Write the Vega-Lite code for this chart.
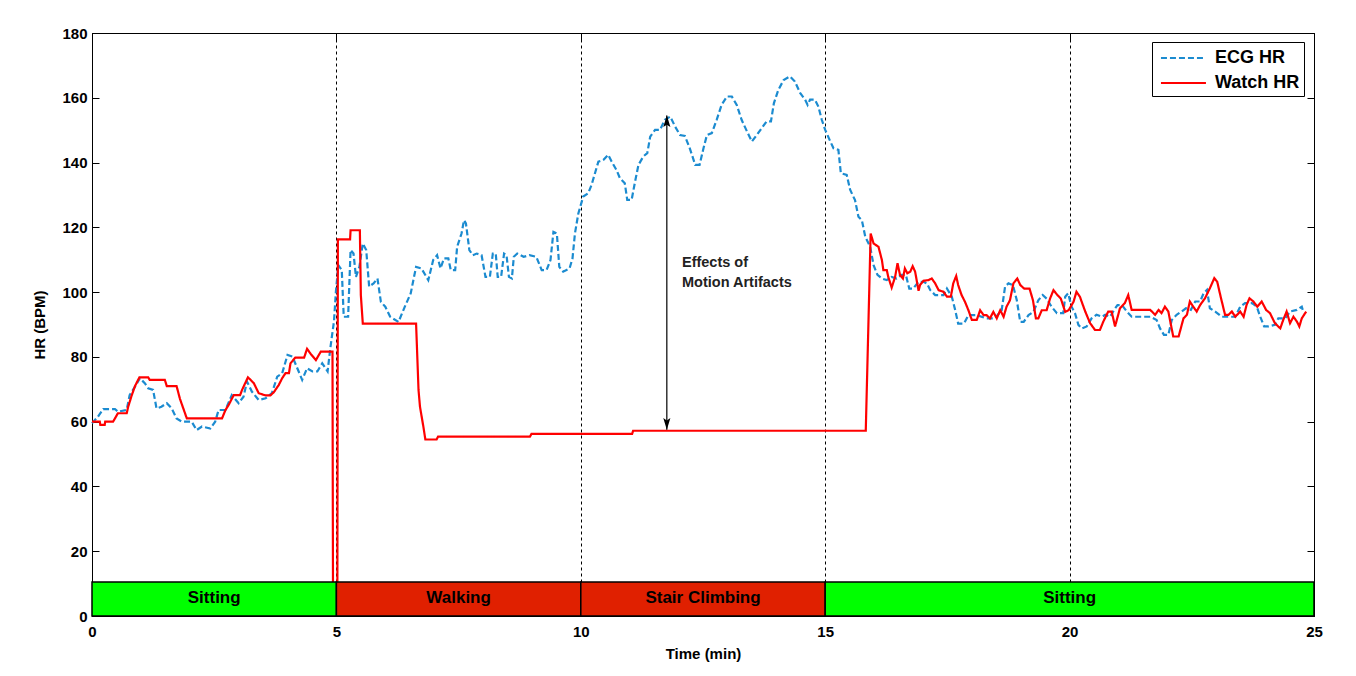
{
  "$schema": "https://vega.github.io/schema/vega-lite/v6.json",
  "autosize": {"type": "none"},
  "width": 1222,
  "height": 583,
  "padding": {"left": 92, "top": 33, "right": 42, "bottom": 60},
  "background": "white",
  "config": {
    "font": "Liberation Sans",
    "view": {"stroke": "black", "strokeWidth": 1},
    "axis": {
      "labelFont": "Liberation Sans", "labelFontWeight": "bold", "labelFontSize": 15, "labelColor": "black",
      "titleFont": "Liberation Sans", "titleFontWeight": "bold", "titleFontSize": 15, "titleColor": "black",
      "domainColor": "black", "tickColor": "black", "tickSize": -7, "labelPadding": 12, "labelFlush": false
    }
  },
  "datasets": {
    "bars": [
      {"activity": "Sitting", "start": 0, "end": 5, "kind": "rest"},
      {"activity": "Walking", "start": 5, "end": 10, "kind": "move"},
      {"activity": "Stair Climbing", "start": 10, "end": 15, "kind": "move"},
      {"activity": "Sitting", "start": 15, "end": 25, "kind": "rest"}
    ],
    "hr": [
      {"s":"ECG HR","t":0,"hr":59.5},{"s":"ECG HR","t":0.12,"hr":61.5},{"s":"ECG HR","t":0.23,"hr":63.9},{"s":"ECG HR","t":0.47,"hr":63.9},{"s":"ECG HR","t":0.53,"hr":63.1},{"s":"ECG HR","t":0.71,"hr":63.6},{"s":"ECG HR","t":0.77,"hr":68.2},{"s":"ECG HR","t":0.88,"hr":70.8},{"s":"ECG HR","t":0.98,"hr":73.4},{"s":"ECG HR","t":1.08,"hr":71.9},{"s":"ECG HR","t":1.15,"hr":70.3},{"s":"ECG HR","t":1.25,"hr":69.8},{"s":"ECG HR","t":1.32,"hr":64.1},{"s":"ECG HR","t":1.42,"hr":64.6},{"s":"ECG HR","t":1.53,"hr":65.7},{"s":"ECG HR","t":1.63,"hr":64.1},{"s":"ECG HR","t":1.73,"hr":61.0},{"s":"ECG HR","t":1.84,"hr":60.0},{"s":"ECG HR","t":2.04,"hr":60.0},{"s":"ECG HR","t":2.14,"hr":57.4},{"s":"ECG HR","t":2.25,"hr":58.5},{"s":"ECG HR","t":2.42,"hr":57.9},{"s":"ECG HR","t":2.52,"hr":60.0},{"s":"ECG HR","t":2.59,"hr":63.6},{"s":"ECG HR","t":2.73,"hr":63.6},{"s":"ECG HR","t":2.86,"hr":68.2},{"s":"ECG HR","t":3.0,"hr":65.7},{"s":"ECG HR","t":3.1,"hr":67.7},{"s":"ECG HR","t":3.17,"hr":72.4},{"s":"ECG HR","t":3.27,"hr":69.3},{"s":"ECG HR","t":3.41,"hr":66.7},{"s":"ECG HR","t":3.55,"hr":67.2},{"s":"ECG HR","t":3.68,"hr":68.8},{"s":"ECG HR","t":3.79,"hr":73.9},{"s":"ECG HR","t":3.89,"hr":74.9},{"s":"ECG HR","t":4.0,"hr":80.6},{"s":"ECG HR","t":4.1,"hr":80.1},{"s":"ECG HR","t":4.2,"hr":76.5},{"s":"ECG HR","t":4.3,"hr":72.9},{"s":"ECG HR","t":4.4,"hr":76.5},{"s":"ECG HR","t":4.51,"hr":75.5},{"s":"ECG HR","t":4.61,"hr":75.5},{"s":"ECG HR","t":4.71,"hr":78.0},{"s":"ECG HR","t":4.82,"hr":75.5},{"s":"ECG HR","t":4.88,"hr":83.2},{"s":"ECG HR","t":4.95,"hr":90.9},{"s":"ECG HR","t":4.99,"hr":100.2},{"s":"ECG HR","t":5.04,"hr":108.3},{"s":"ECG HR","t":5.11,"hr":106.8},{"s":"ECG HR","t":5.15,"hr":92.4},{"s":"ECG HR","t":5.24,"hr":92.4},{"s":"ECG HR","t":5.29,"hr":113.0},{"s":"ECG HR","t":5.35,"hr":111.9},{"s":"ECG HR","t":5.4,"hr":104.7},{"s":"ECG HR","t":5.47,"hr":107.8},{"s":"ECG HR","t":5.54,"hr":115.0},{"s":"ECG HR","t":5.61,"hr":113.0},{"s":"ECG HR","t":5.67,"hr":101.7},{"s":"ECG HR","t":5.76,"hr":102.7},{"s":"ECG HR","t":5.84,"hr":104.2},{"s":"ECG HR","t":5.91,"hr":97.0},{"s":"ECG HR","t":6.0,"hr":95.5},{"s":"ECG HR","t":6.1,"hr":92.4},{"s":"ECG HR","t":6.27,"hr":90.8},{"s":"ECG HR","t":6.4,"hr":95.5},{"s":"ECG HR","t":6.52,"hr":99.6},{"s":"ECG HR","t":6.63,"hr":107.8},{"s":"ECG HR","t":6.74,"hr":107.3},{"s":"ECG HR","t":6.88,"hr":103.7},{"s":"ECG HR","t":6.98,"hr":109.9},{"s":"ECG HR","t":7.06,"hr":111.4},{"s":"ECG HR","t":7.13,"hr":107.3},{"s":"ECG HR","t":7.2,"hr":110.4},{"s":"ECG HR","t":7.29,"hr":110.4},{"s":"ECG HR","t":7.34,"hr":106.8},{"s":"ECG HR","t":7.43,"hr":106.8},{"s":"ECG HR","t":7.47,"hr":114.0},{"s":"ECG HR","t":7.56,"hr":118.1},{"s":"ECG HR","t":7.61,"hr":122.2},{"s":"ECG HR","t":7.65,"hr":121.2},{"s":"ECG HR","t":7.72,"hr":113.0},{"s":"ECG HR","t":7.79,"hr":111.4},{"s":"ECG HR","t":7.87,"hr":111.9},{"s":"ECG HR","t":7.97,"hr":111.4},{"s":"ECG HR","t":8.05,"hr":104.7},{"s":"ECG HR","t":8.14,"hr":104.7},{"s":"ECG HR","t":8.2,"hr":111.9},{"s":"ECG HR","t":8.26,"hr":111.9},{"s":"ECG HR","t":8.3,"hr":104.7},{"s":"ECG HR","t":8.37,"hr":104.7},{"s":"ECG HR","t":8.43,"hr":111.9},{"s":"ECG HR","t":8.48,"hr":111.4},{"s":"ECG HR","t":8.53,"hr":104.7},{"s":"ECG HR","t":8.59,"hr":104.2},{"s":"ECG HR","t":8.63,"hr":110.9},{"s":"ECG HR","t":8.7,"hr":111.9},{"s":"ECG HR","t":8.83,"hr":110.9},{"s":"ECG HR","t":8.95,"hr":111.4},{"s":"ECG HR","t":9.09,"hr":110.9},{"s":"ECG HR","t":9.2,"hr":106.8},{"s":"ECG HR","t":9.3,"hr":106.8},{"s":"ECG HR","t":9.38,"hr":109.9},{"s":"ECG HR","t":9.44,"hr":118.6},{"s":"ECG HR","t":9.51,"hr":118.1},{"s":"ECG HR","t":9.56,"hr":107.8},{"s":"ECG HR","t":9.64,"hr":106.3},{"s":"ECG HR","t":9.77,"hr":107.3},{"s":"ECG HR","t":9.83,"hr":110.4},{"s":"ECG HR","t":9.88,"hr":118.1},{"s":"ECG HR","t":9.95,"hr":124.3},{"s":"ECG HR","t":10.05,"hr":129.5},{"s":"ECG HR","t":10.15,"hr":130.5},{"s":"ECG HR","t":10.22,"hr":133.1},{"s":"ECG HR","t":10.29,"hr":136.7},{"s":"ECG HR","t":10.36,"hr":140.3},{"s":"ECG HR","t":10.46,"hr":140.8},{"s":"ECG HR","t":10.56,"hr":142.4},{"s":"ECG HR","t":10.63,"hr":140.3},{"s":"ECG HR","t":10.73,"hr":137.7},{"s":"ECG HR","t":10.8,"hr":135.2},{"s":"ECG HR","t":10.9,"hr":133.6},{"s":"ECG HR","t":10.95,"hr":128.5},{"s":"ECG HR","t":11.04,"hr":128.5},{"s":"ECG HR","t":11.11,"hr":134.1},{"s":"ECG HR","t":11.18,"hr":139.3},{"s":"ECG HR","t":11.28,"hr":141.9},{"s":"ECG HR","t":11.36,"hr":142.9},{"s":"ECG HR","t":11.42,"hr":148.0},{"s":"ECG HR","t":11.52,"hr":150.1},{"s":"ECG HR","t":11.62,"hr":150.1},{"s":"ECG HR","t":11.72,"hr":153.2},{"s":"ECG HR","t":11.83,"hr":154.2},{"s":"ECG HR","t":11.93,"hr":151.1},{"s":"ECG HR","t":12.03,"hr":148.5},{"s":"ECG HR","t":12.13,"hr":148.2},{"s":"ECG HR","t":12.23,"hr":144.4},{"s":"ECG HR","t":12.34,"hr":139.3},{"s":"ECG HR","t":12.43,"hr":139.3},{"s":"ECG HR","t":12.51,"hr":144.4},{"s":"ECG HR","t":12.58,"hr":148.5},{"s":"ECG HR","t":12.68,"hr":149.1},{"s":"ECG HR","t":12.78,"hr":153.2},{"s":"ECG HR","t":12.88,"hr":157.8},{"s":"ECG HR","t":12.99,"hr":160.4},{"s":"ECG HR","t":13.09,"hr":160.4},{"s":"ECG HR","t":13.19,"hr":157.8},{"s":"ECG HR","t":13.29,"hr":153.2},{"s":"ECG HR","t":13.4,"hr":149.6},{"s":"ECG HR","t":13.5,"hr":146.5},{"s":"ECG HR","t":13.6,"hr":148.5},{"s":"ECG HR","t":13.7,"hr":150.6},{"s":"ECG HR","t":13.8,"hr":152.7},{"s":"ECG HR","t":13.89,"hr":152.7},{"s":"ECG HR","t":13.95,"hr":158.3},{"s":"ECG HR","t":14.04,"hr":162.4},{"s":"ECG HR","t":14.15,"hr":165.5},{"s":"ECG HR","t":14.28,"hr":166.6},{"s":"ECG HR","t":14.38,"hr":165.0},{"s":"ECG HR","t":14.49,"hr":161.4},{"s":"ECG HR","t":14.59,"hr":159.4},{"s":"ECG HR","t":14.64,"hr":157.8},{"s":"ECG HR","t":14.69,"hr":159.4},{"s":"ECG HR","t":14.79,"hr":159.4},{"s":"ECG HR","t":14.86,"hr":157.3},{"s":"ECG HR","t":14.93,"hr":153.2},{"s":"ECG HR","t":15.0,"hr":150.1},{"s":"ECG HR","t":15.09,"hr":147.0},{"s":"ECG HR","t":15.17,"hr":144.4},{"s":"ECG HR","t":15.27,"hr":143.9},{"s":"ECG HR","t":15.32,"hr":136.7},{"s":"ECG HR","t":15.44,"hr":136.2},{"s":"ECG HR","t":15.51,"hr":131.6},{"s":"ECG HR","t":15.61,"hr":128.4},{"s":"ECG HR","t":15.68,"hr":123.3},{"s":"ECG HR","t":15.75,"hr":122.2},{"s":"ECG HR","t":15.82,"hr":117.1},{"s":"ECG HR","t":15.92,"hr":114.0},{"s":"ECG HR","t":15.99,"hr":108.3},{"s":"ECG HR","t":16.07,"hr":105.3},{"s":"ECG HR","t":16.16,"hr":104.2},{"s":"ECG HR","t":16.26,"hr":103.7},{"s":"ECG HR","t":16.36,"hr":104.7},{"s":"ECG HR","t":16.46,"hr":104.2},{"s":"ECG HR","t":16.56,"hr":105.3},{"s":"ECG HR","t":16.65,"hr":105.3},{"s":"ECG HR","t":16.72,"hr":101.1},{"s":"ECG HR","t":16.8,"hr":101.1},{"s":"ECG HR","t":16.91,"hr":103.2},{"s":"ECG HR","t":17.01,"hr":103.2},{"s":"ECG HR","t":17.08,"hr":102.7},{"s":"ECG HR","t":17.15,"hr":100.6},{"s":"ECG HR","t":17.25,"hr":99.1},{"s":"ECG HR","t":17.42,"hr":99.1},{"s":"ECG HR","t":17.49,"hr":101.1},{"s":"ECG HR","t":17.59,"hr":98.6},{"s":"ECG HR","t":17.66,"hr":94.4},{"s":"ECG HR","t":17.72,"hr":90.3},{"s":"ECG HR","t":17.84,"hr":90.3},{"s":"ECG HR","t":17.93,"hr":92.9},{"s":"ECG HR","t":18.1,"hr":92.9},{"s":"ECG HR","t":18.3,"hr":91.9},{"s":"ECG HR","t":18.47,"hr":91.9},{"s":"ECG HR","t":18.61,"hr":94.4},{"s":"ECG HR","t":18.68,"hr":101.7},{"s":"ECG HR","t":18.75,"hr":102.7},{"s":"ECG HR","t":18.84,"hr":102.2},{"s":"ECG HR","t":18.92,"hr":97.5},{"s":"ECG HR","t":18.99,"hr":90.8},{"s":"ECG HR","t":19.06,"hr":90.8},{"s":"ECG HR","t":19.16,"hr":92.9},{"s":"ECG HR","t":19.26,"hr":93.9},{"s":"ECG HR","t":19.36,"hr":97.5},{"s":"ECG HR","t":19.45,"hr":99.1},{"s":"ECG HR","t":19.53,"hr":98.0},{"s":"ECG HR","t":19.63,"hr":95.5},{"s":"ECG HR","t":19.74,"hr":93.5},{"s":"ECG HR","t":19.87,"hr":93.5},{"s":"ECG HR","t":19.91,"hr":98.6},{"s":"ECG HR","t":19.97,"hr":99.6},{"s":"ECG HR","t":20.04,"hr":95.5},{"s":"ECG HR","t":20.11,"hr":93.5},{"s":"ECG HR","t":20.18,"hr":89.9},{"s":"ECG HR","t":20.25,"hr":88.8},{"s":"ECG HR","t":20.35,"hr":89.4},{"s":"ECG HR","t":20.45,"hr":91.9},{"s":"ECG HR","t":20.55,"hr":93.0},{"s":"ECG HR","t":20.66,"hr":92.4},{"s":"ECG HR","t":20.73,"hr":93.0},{"s":"ECG HR","t":20.83,"hr":92.4},{"s":"ECG HR","t":20.91,"hr":94.5},{"s":"ECG HR","t":20.98,"hr":96.0},{"s":"ECG HR","t":21.07,"hr":96.0},{"s":"ECG HR","t":21.17,"hr":94.0},{"s":"ECG HR","t":21.27,"hr":92.4},{"s":"ECG HR","t":21.65,"hr":92.4},{"s":"ECG HR","t":21.78,"hr":91.4},{"s":"ECG HR","t":21.85,"hr":88.8},{"s":"ECG HR","t":21.93,"hr":86.8},{"s":"ECG HR","t":22.02,"hr":86.8},{"s":"ECG HR","t":22.09,"hr":91.4},{"s":"ECG HR","t":22.19,"hr":93.0},{"s":"ECG HR","t":22.29,"hr":94.0},{"s":"ECG HR","t":22.38,"hr":95.0},{"s":"ECG HR","t":22.48,"hr":94.5},{"s":"ECG HR","t":22.57,"hr":97.1},{"s":"ECG HR","t":22.67,"hr":97.1},{"s":"ECG HR","t":22.74,"hr":99.6},{"s":"ECG HR","t":22.81,"hr":100.7},{"s":"ECG HR","t":22.87,"hr":95.0},{"s":"ECG HR","t":22.98,"hr":94.0},{"s":"ECG HR","t":23.11,"hr":92.4},{"s":"ECG HR","t":23.39,"hr":92.4},{"s":"ECG HR","t":23.49,"hr":95.5},{"s":"ECG HR","t":23.59,"hr":96.6},{"s":"ECG HR","t":23.73,"hr":96.6},{"s":"ECG HR","t":23.83,"hr":95.5},{"s":"ECG HR","t":23.9,"hr":92.4},{"s":"ECG HR","t":23.98,"hr":89.4},{"s":"ECG HR","t":24.07,"hr":89.4},{"s":"ECG HR","t":24.2,"hr":89.9},{"s":"ECG HR","t":24.27,"hr":91.9},{"s":"ECG HR","t":24.41,"hr":91.9},{"s":"ECG HR","t":24.51,"hr":94.0},{"s":"ECG HR","t":24.65,"hr":94.5},{"s":"ECG HR","t":24.75,"hr":95.5},{"s":"ECG HR","t":24.78,"hr":94.0},
      {"s":"Watch HR","t":0,"hr":60},{"s":"Watch HR","t":0.16,"hr":60},{"s":"Watch HR","t":0.17,"hr":59},{"s":"Watch HR","t":0.26,"hr":59},{"s":"Watch HR","t":0.27,"hr":60},{"s":"Watch HR","t":0.43,"hr":60},{"s":"Watch HR","t":0.47,"hr":61},{"s":"Watch HR","t":0.53,"hr":62.6},{"s":"Watch HR","t":0.71,"hr":62.6},{"s":"Watch HR","t":0.74,"hr":64.6},{"s":"Watch HR","t":0.81,"hr":68},{"s":"Watch HR","t":0.88,"hr":71},{"s":"Watch HR","t":0.97,"hr":73.7},{"s":"Watch HR","t":1.15,"hr":73.7},{"s":"Watch HR","t":1.18,"hr":72.9},{"s":"Watch HR","t":1.49,"hr":72.9},{"s":"Watch HR","t":1.53,"hr":71},{"s":"Watch HR","t":1.73,"hr":71},{"s":"Watch HR","t":1.8,"hr":67},{"s":"Watch HR","t":1.87,"hr":64},{"s":"Watch HR","t":1.94,"hr":61},{"s":"Watch HR","t":2.66,"hr":61},{"s":"Watch HR","t":2.73,"hr":63.6},{"s":"Watch HR","t":2.79,"hr":65},{"s":"Watch HR","t":2.9,"hr":68.2},{"s":"Watch HR","t":3.03,"hr":68.2},{"s":"Watch HR","t":3.07,"hr":69.8},{"s":"Watch HR","t":3.19,"hr":73.7},{"s":"Watch HR","t":3.31,"hr":71.9},{"s":"Watch HR","t":3.41,"hr":68.8},{"s":"Watch HR","t":3.55,"hr":68.1},{"s":"Watch HR","t":3.65,"hr":68.1},{"s":"Watch HR","t":3.72,"hr":69.1},{"s":"Watch HR","t":3.82,"hr":71.3},{"s":"Watch HR","t":3.89,"hr":73.4},{"s":"Watch HR","t":3.96,"hr":75},{"s":"Watch HR","t":4.03,"hr":75},{"s":"Watch HR","t":4.06,"hr":78},{"s":"Watch HR","t":4.16,"hr":79.8},{"s":"Watch HR","t":4.34,"hr":79.8},{"s":"Watch HR","t":4.4,"hr":82.5},{"s":"Watch HR","t":4.47,"hr":81},{"s":"Watch HR","t":4.58,"hr":79},{"s":"Watch HR","t":4.68,"hr":81.6},{"s":"Watch HR","t":4.92,"hr":81.6},{"s":"Watch HR","t":4.93,"hr":10},{"s":"Watch HR","t":5.02,"hr":10},{"s":"Watch HR","t":5.03,"hr":116.3},{"s":"Watch HR","t":5.28,"hr":116.3},{"s":"Watch HR","t":5.29,"hr":119.1},{"s":"Watch HR","t":5.48,"hr":119.1},{"s":"Watch HR","t":5.5,"hr":99.1},{"s":"Watch HR","t":5.54,"hr":90.3},{"s":"Watch HR","t":6.63,"hr":90.3},{"s":"Watch HR","t":6.65,"hr":82.1},{"s":"Watch HR","t":6.68,"hr":69.8},{"s":"Watch HR","t":6.71,"hr":64.6},{"s":"Watch HR","t":6.78,"hr":58.4},{"s":"Watch HR","t":6.82,"hr":54.5},{"s":"Watch HR","t":7.05,"hr":54.5},{"s":"Watch HR","t":7.08,"hr":55.4},{"s":"Watch HR","t":8.96,"hr":55.4},{"s":"Watch HR","t":8.99,"hr":56.2},{"s":"Watch HR","t":11.05,"hr":56.2},{"s":"Watch HR","t":11.07,"hr":57.2},{"s":"Watch HR","t":15.83,"hr":57.2},{"s":"Watch HR","t":15.93,"hr":118.1},{"s":"Watch HR","t":15.99,"hr":115.0},{"s":"Watch HR","t":16.09,"hr":114.0},{"s":"Watch HR","t":16.16,"hr":109.9},{"s":"Watch HR","t":16.19,"hr":106.8},{"s":"Watch HR","t":16.26,"hr":106.8},{"s":"Watch HR","t":16.29,"hr":104.7},{"s":"Watch HR","t":16.36,"hr":101.4},{"s":"Watch HR","t":16.43,"hr":104.7},{"s":"Watch HR","t":16.48,"hr":108.9},{"s":"Watch HR","t":16.53,"hr":105.3},{"s":"Watch HR","t":16.59,"hr":104.2},{"s":"Watch HR","t":16.63,"hr":107.3},{"s":"Watch HR","t":16.68,"hr":105.8},{"s":"Watch HR","t":16.74,"hr":106.3},{"s":"Watch HR","t":16.79,"hr":108.0},{"s":"Watch HR","t":16.84,"hr":106.3},{"s":"Watch HR","t":16.91,"hr":100.4},{"s":"Watch HR","t":16.94,"hr":102.2},{"s":"Watch HR","t":17.01,"hr":103.5},{"s":"Watch HR","t":17.11,"hr":103.7},{"s":"Watch HR","t":17.18,"hr":104.2},{"s":"Watch HR","t":17.25,"hr":102.7},{"s":"Watch HR","t":17.32,"hr":100.6},{"s":"Watch HR","t":17.42,"hr":100.1},{"s":"Watch HR","t":17.49,"hr":98.6},{"s":"Watch HR","t":17.57,"hr":98.6},{"s":"Watch HR","t":17.62,"hr":102.7},{"s":"Watch HR","t":17.68,"hr":105.0},{"s":"Watch HR","t":17.72,"hr":102.2},{"s":"Watch HR","t":17.79,"hr":99.1},{"s":"Watch HR","t":17.86,"hr":97.0},{"s":"Watch HR","t":17.93,"hr":94.4},{"s":"Watch HR","t":18.0,"hr":91.4},{"s":"Watch HR","t":18.1,"hr":91.4},{"s":"Watch HR","t":18.17,"hr":94.4},{"s":"Watch HR","t":18.24,"hr":92.9},{"s":"Watch HR","t":18.3,"hr":92.9},{"s":"Watch HR","t":18.37,"hr":91.9},{"s":"Watch HR","t":18.44,"hr":93.9},{"s":"Watch HR","t":18.51,"hr":91.9},{"s":"Watch HR","t":18.58,"hr":94.4},{"s":"Watch HR","t":18.65,"hr":92.4},{"s":"Watch HR","t":18.71,"hr":95.5},{"s":"Watch HR","t":18.78,"hr":97.5},{"s":"Watch HR","t":18.85,"hr":102.7},{"s":"Watch HR","t":18.93,"hr":104.2},{"s":"Watch HR","t":18.99,"hr":102.2},{"s":"Watch HR","t":19.07,"hr":101.1},{"s":"Watch HR","t":19.18,"hr":101.1},{"s":"Watch HR","t":19.25,"hr":97.5},{"s":"Watch HR","t":19.31,"hr":91.9},{"s":"Watch HR","t":19.36,"hr":91.9},{"s":"Watch HR","t":19.43,"hr":94.4},{"s":"Watch HR","t":19.53,"hr":94.4},{"s":"Watch HR","t":19.6,"hr":98.0},{"s":"Watch HR","t":19.67,"hr":100.6},{"s":"Watch HR","t":19.75,"hr":99.1},{"s":"Watch HR","t":19.82,"hr":98.0},{"s":"Watch HR","t":19.91,"hr":93.9},{"s":"Watch HR","t":19.98,"hr":94.4},{"s":"Watch HR","t":20.08,"hr":97.0},{"s":"Watch HR","t":20.14,"hr":100.1},{"s":"Watch HR","t":20.21,"hr":98.6},{"s":"Watch HR","t":20.32,"hr":94.0},{"s":"Watch HR","t":20.42,"hr":90.4},{"s":"Watch HR","t":20.52,"hr":88.3},{"s":"Watch HR","t":20.62,"hr":88.3},{"s":"Watch HR","t":20.69,"hr":90.9},{"s":"Watch HR","t":20.79,"hr":94.0},{"s":"Watch HR","t":20.86,"hr":94.0},{"s":"Watch HR","t":20.93,"hr":89.4},{"s":"Watch HR","t":21.03,"hr":95.0},{"s":"Watch HR","t":21.13,"hr":96.6},{"s":"Watch HR","t":21.2,"hr":99.1},{"s":"Watch HR","t":21.27,"hr":94.5},{"s":"Watch HR","t":21.65,"hr":94.5},{"s":"Watch HR","t":21.75,"hr":93.0},{"s":"Watch HR","t":21.82,"hr":94.5},{"s":"Watch HR","t":21.88,"hr":93.5},{"s":"Watch HR","t":21.95,"hr":95.5},{"s":"Watch HR","t":22.02,"hr":94.0},{"s":"Watch HR","t":22.12,"hr":86.3},{"s":"Watch HR","t":22.23,"hr":86.3},{"s":"Watch HR","t":22.33,"hr":91.9},{"s":"Watch HR","t":22.4,"hr":93.0},{"s":"Watch HR","t":22.46,"hr":97.1},{"s":"Watch HR","t":22.53,"hr":95.5},{"s":"Watch HR","t":22.6,"hr":94.0},{"s":"Watch HR","t":22.67,"hr":96.0},{"s":"Watch HR","t":22.77,"hr":98.1},{"s":"Watch HR","t":22.87,"hr":101.2},{"s":"Watch HR","t":22.96,"hr":104.3},{"s":"Watch HR","t":23.02,"hr":103.2},{"s":"Watch HR","t":23.09,"hr":98.6},{"s":"Watch HR","t":23.18,"hr":93.0},{"s":"Watch HR","t":23.25,"hr":93.0},{"s":"Watch HR","t":23.32,"hr":94.0},{"s":"Watch HR","t":23.39,"hr":92.4},{"s":"Watch HR","t":23.49,"hr":94.0},{"s":"Watch HR","t":23.56,"hr":92.4},{"s":"Watch HR","t":23.62,"hr":96.0},{"s":"Watch HR","t":23.68,"hr":98.1},{"s":"Watch HR","t":23.76,"hr":97.1},{"s":"Watch HR","t":23.84,"hr":95.5},{"s":"Watch HR","t":23.93,"hr":97.1},{"s":"Watch HR","t":24.02,"hr":94.5},{"s":"Watch HR","t":24.1,"hr":93.5},{"s":"Watch HR","t":24.2,"hr":90.4},{"s":"Watch HR","t":24.31,"hr":88.8},{"s":"Watch HR","t":24.37,"hr":91.4},{"s":"Watch HR","t":24.44,"hr":94.0},{"s":"Watch HR","t":24.51,"hr":90.4},{"s":"Watch HR","t":24.58,"hr":92.4},{"s":"Watch HR","t":24.65,"hr":90.9},{"s":"Watch HR","t":24.7,"hr":89.4},{"s":"Watch HR","t":24.75,"hr":91.9},{"s":"Watch HR","t":24.84,"hr":94.0}
    ],
    "arrow": [{"t": 11.76, "lo": 57.5, "hi": 154.5}],
    "heads": [{"t": 11.76, "hr": 152.8, "dir": "up"}, {"t": 11.76, "hr": 59.3, "dir": "down"}],
    "note": [{"t": 12.07, "hr": 109.0, "label": "Effects of"}, {"t": 12.07, "hr": 102.9, "label": "Motion Artifacts"}]
  },
  "resolve": {"axis": {"x": "independent", "y": "independent"}},
  "layer": [
    {
      "data": {"name": "hr"},
      "mark": {"type": "line", "strokeWidth": 2.2, "interpolate": "linear"},
      "encoding": {
        "x": {"field": "t", "type": "quantitative", "scale": {"domain": [0, 25], "nice": false},
              "axis": {"orient": "top", "labels": false, "title": null, "grid": false, "values": [0,5,10,15,20,25], "domain": false}},
        "y": {"field": "hr", "type": "quantitative", "scale": {"domain": [0, 180], "nice": false},
              "axis": {"orient": "right", "labels": false, "title": null, "grid": false, "values": [0,20,40,60,80,100,120,140,160,180], "domain": false}},
        "detail": {"field": "s"},
        "color": {"field": "s", "type": "nominal", "title": null,
                  "scale": {"domain": ["ECG HR", "Watch HR"], "range": ["#1b8bd0", "#ff0000"]},
                  "legend": {"orient": "none", "legendX": 1060, "legendY": 9, "fillColor": "white", "strokeColor": "black",
                             "padding": 4, "labelFontSize": 18, "labelFontWeight": "bold", "labelFont": "Liberation Sans", "labelColor": "black",
                             "symbolType": "M-0.64,0L3.45,0", "symbolSize": 484, "symbolStrokeWidth": 2, "rowPadding": 4, "labelOffset": 35}},
        "strokeDash": {"field": "s", "type": "nominal", "title": null,
                       "scale": {"domain": ["ECG HR", "Watch HR"], "range": [[6, 3], [1, 0]]},
                       "legend": {"orient": "none", "legendX": 1060, "legendY": 9, "fillColor": "white", "strokeColor": "black",
                             "padding": 4, "labelFontSize": 18, "labelFontWeight": "bold", "labelFont": "Liberation Sans", "labelColor": "black",
                             "symbolType": "M-0.64,0L3.45,0", "symbolSize": 484, "symbolStrokeWidth": 2, "rowPadding": 4, "labelOffset": 35}}
      }
    },
    {
      "data": {"name": "bars"},
      "mark": {"type": "rect", "stroke": "black", "strokeWidth": 1.5},
      "encoding": {
        "x": {"field": "start", "type": "quantitative",
              "axis": {"title": "Time (min)", "values": [0,5,10,15,20,25], "grid": true, "gridDash": [3, 3], "gridColor": "black", "gridOpacity": 1, "gridWidth": 1, "labelPadding": 15, "titlePadding": 7}},
        "x2": {"field": "end"},
        "y": {"datum": 0, "type": "quantitative",
              "axis": {"title": "HR (BPM)", "values": [0,20,40,60,80,100,120,140,160,180], "grid": false, "labelPadding": 12, "titlePadding": 14}},
        "y2": {"datum": 10.5},
        "fill": {"field": "kind", "type": "nominal", "legend": null,
                 "scale": {"domain": ["rest", "move"], "range": ["#00ff00", "#e02000"]}}
      }
    },
    {
      "data": {"name": "bars"},
      "transform": [{"calculate": "(datum.start + datum.end) / 2", "as": "mid"}],
      "mark": {"type": "text", "fontWeight": "bold", "fontSize": 17, "font": "Liberation Sans", "color": "black", "align": "center", "baseline": "middle"},
      "encoding": {
        "x": {"field": "mid", "type": "quantitative", "axis": null},
        "y": {"datum": 5.5, "type": "quantitative", "axis": null},
        "text": {"field": "activity"}
      }
    },
    {
      "data": {"name": "arrow"},
      "mark": {"type": "rule", "color": "black", "strokeWidth": 1.2},
      "encoding": {
        "x": {"field": "t", "type": "quantitative", "axis": null},
        "y": {"field": "lo", "type": "quantitative", "axis": null},
        "y2": {"field": "hi"}
      }
    },
    {
      "data": {"name": "heads"},
      "mark": {"type": "point", "filled": true, "color": "black", "opacity": 1, "size": 140},
      "encoding": {
        "x": {"field": "t", "type": "quantitative", "axis": null},
        "y": {"field": "hr", "type": "quantitative", "axis": null},
        "shape": {"field": "dir", "type": "nominal", "legend": null,
                  "scale": {"domain": ["up", "down"], "range": ["M-0.6,1L0,-1L0.6,1L0,0.6Z", "M-0.6,-1L0,1L0.6,-1L0,-0.6Z"]}}
      }
    },
    {
      "data": {"name": "note"},
      "mark": {"type": "text", "align": "left", "baseline": "middle", "fontSize": 14.5, "fontWeight": "bold", "font": "Liberation Sans", "color": "#222222"},
      "encoding": {
        "x": {"field": "t", "type": "quantitative", "axis": null},
        "y": {"field": "hr", "type": "quantitative", "axis": null},
        "text": {"field": "label"}
      }
    }
  ]
}
